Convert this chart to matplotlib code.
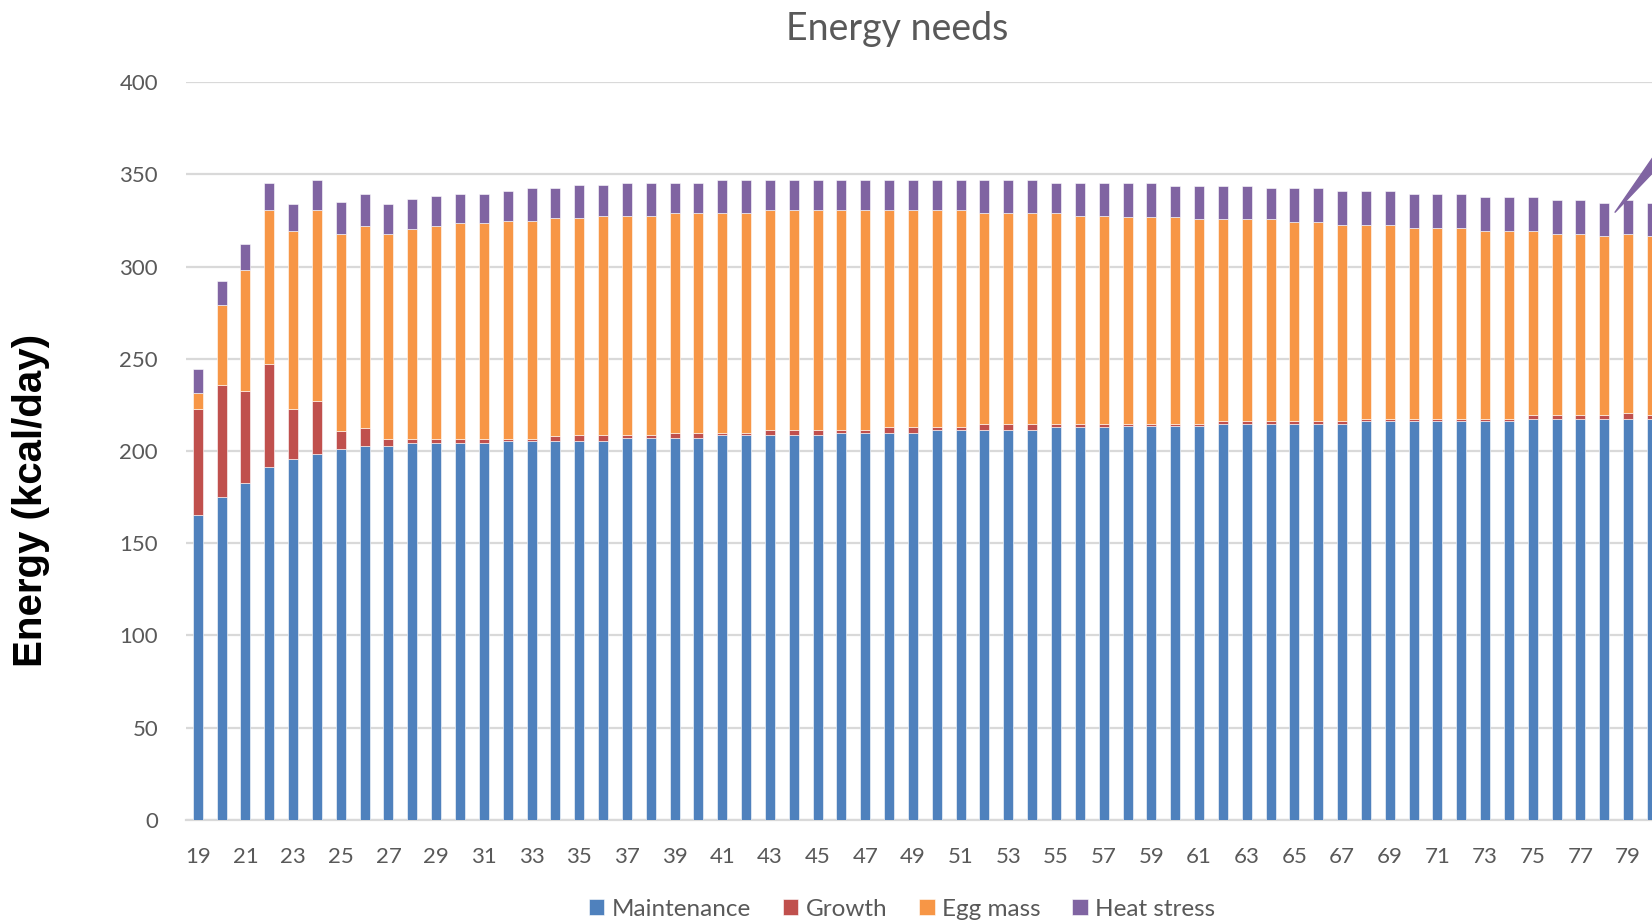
import matplotlib.pyplot as plt
import numpy as np

#============================================================
# Energy needs per week (kcal/day), stacked by component
#============================================================

weeks = list(range(19, 81))

maintenance = [165.1, 175.0, 182.5, 191.1, 195.5, 198.2, 201.1, 202.5, 202.5, 204.1,
               204.1, 204.1, 204.1, 205.4, 205.4, 205.5, 205.6, 205.6, 207.0, 207.0,
               207.0, 207.0, 208.7, 208.7, 208.7, 208.7, 208.7, 210.0, 210.0, 210.0,
               210.0, 211.5, 211.5, 211.5, 211.5, 211.5, 213.1, 213.1, 213.2, 213.3,
               213.3, 213.3, 213.3, 214.4, 214.4, 214.4, 214.4, 214.4, 214.4, 216.1,
               216.1, 216.1, 216.1, 216.1, 216.1, 216.1, 217.6, 217.6, 217.6, 217.6,
               217.6, 217.6]

growth = [57.5, 60.6, 50.2, 56.2, 27.1, 28.7, 9.9, 10.1, 4.2, 2.6,
          2.6, 2.6, 2.6, 1.3, 1.3, 2.5, 3.1, 3.1, 1.7, 1.7,
          3.0, 3.0, 1.3, 1.3, 2.8, 2.8, 2.8, 1.5, 1.5, 3.1,
          3.1, 1.6, 1.6, 2.9, 2.9, 2.9, 1.3, 1.3, 1.5, 1.5,
          1.5, 1.5, 1.5, 1.7, 1.7, 1.7, 1.7, 1.7, 1.7, 1.5,
          1.5, 1.5, 1.5, 1.5, 1.5, 1.5, 1.7, 1.7, 1.7, 1.7,
          3.0, 1.7]

egg_mass = [8.8, 43.6, 65.3, 83.5, 96.6, 103.9, 106.7, 109.5, 111.0, 113.9,
            115.4, 116.8, 116.8, 118.3, 118.3, 118.5, 117.8, 118.8, 118.8, 118.8,
            119.0, 119.0, 119.0, 119.0, 119.0, 119.0, 119.0, 119.0, 119.0, 117.4,
            117.4, 117.4, 117.4, 114.6, 114.6, 114.6, 114.6, 113.1, 112.6, 112.3,
            112.3, 112.3, 110.8, 109.5, 109.5, 109.5, 107.9, 107.9, 106.4, 104.9,
            104.9, 103.4, 103.4, 103.4, 101.9, 101.9, 100.2, 98.6, 98.6, 97.1,
            97.3, 97.1]

heat_stress = [13.1, 13.0, 14.4, 14.6, 14.6, 16.1, 17.5, 17.5, 16.1, 16.1,
               16.0, 16.1, 16.1, 16.1, 17.5, 16.0, 17.5, 16.5, 18.0, 18.0,
               16.5, 16.5, 18.0, 18.0, 16.5, 16.5, 16.5, 16.5, 16.5, 16.5,
               16.5, 16.5, 16.5, 18.0, 18.0, 18.0, 16.5, 18.0, 18.2, 18.3,
               18.3, 16.8, 18.3, 18.3, 18.3, 16.8, 18.4, 18.4, 18.3, 18.3,
               18.3, 18.3, 18.3, 18.3, 18.3, 18.3, 18.3, 18.4, 18.4, 18.3,
               18.4, 18.3]

series = ['Maintenance', 'Growth', 'Egg mass', 'Heat stress']
colores = ['#4F81BD', '#C0504D', '#F79646', '#8064A2']

#============================================================
# Figure
#============================================================

plt.rcParams['font.family'] = ['Lato', 'DejaVu Sans']
gris = '#595959'

fig = plt.figure(figsize=(16.52, 9.23), dpi=100)
ax = fig.add_axes([0.1125, 0.1119, 0.8875, 0.799])

x = np.array(weeks)
base = np.zeros(len(weeks))
for nombre, valores, color in zip(series, [maintenance, growth, egg_mass, heat_stress], colores):
    ax.bar(x, valores, width=0.42, bottom=base, color=color, label=nombre,
           edgecolor='white', linewidth=0.4, zorder=3)
    base = base + np.array(valores)

ax.set_xlim(18.5, 80.0)
ax.set_ylim(0, 400)
ax.set_yticks(np.arange(0, 401, 50))
ax.set_xticks(weeks[::2])
ax.tick_params(length=0, labelsize=16, labelcolor=gris)
ax.tick_params(axis='y', pad=20)
ax.tick_params(axis='x', pad=20)

ax.grid(axis='y', color='#D9D9D9', linewidth=1.6, zorder=0)
for lado in ['top', 'right', 'left']:
    ax.spines[lado].set_visible(False)
ax.spines['bottom'].set_color('#D9D9D9')
ax.spines['bottom'].set_linewidth(1.6)

# callout wedge pointing at the last weeks
ax.annotate('', xy=(78.45, 329.5), xytext=(81.5, 378), textcoords='data',
            annotation_clip=False,
            arrowprops=dict(arrowstyle='wedge,tail_width=1.3', color='#8064A2',
                            mutation_scale=10, shrinkA=0, shrinkB=0))

fig.text(0.543, 0.969, 'Energy needs', ha='center', va='center', fontsize=27, color=gris)
fig.text(0.019, 0.458, 'Energy (kcal/day)', rotation=90, ha='center', va='center',
         fontsize=29, fontweight='bold', family=['Liberation Sans', 'DejaVu Sans'])

fig.legend(loc='center', bbox_to_anchor=(0.546, 0.015), ncol=4, frameon=False,
           fontsize=17.5, labelcolor=gris, handlelength=0.65, handleheight=0.65,
           handletextpad=0.3, columnspacing=1.3)

plt.savefig('out.png', dpi=100)
